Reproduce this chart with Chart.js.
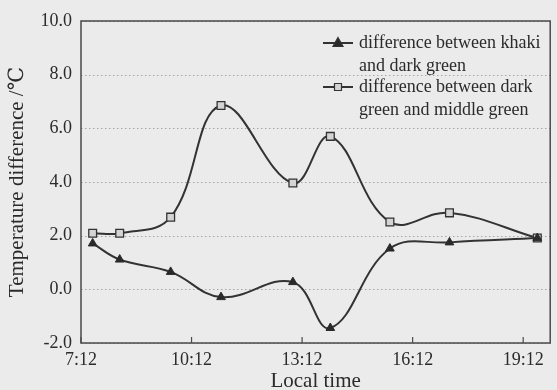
<!DOCTYPE html>
<html>
<head>
<meta charset="utf-8">
<script src="https://cdn.jsdelivr.net/npm/chart.js@4.4.1/dist/chart.umd.min.js"></script>
<style>
  html, body { margin: 0; padding: 0; background: #ebebeb; }
  #wrap { width: 557px; height: 390px; }
</style>
</head>
<body>
<div id="wrap"><canvas id="chart"></canvas></div>
<script>
// measured local times of the two series
const times = ['7:31', '8:15', '9:38', '11:00', '12:57', '13:58', '15:35', '17:12', '19:35'];
const khakiVsDark = [1.71, 1.11, 0.65, -0.29, 0.27, -1.44, 1.52, 1.75, 1.91];
const darkVsMiddle = [2.09, 2.09, 2.69, 6.85, 3.96, 5.70, 2.51, 2.85, 1.91];
const seriesNames = [
  ['difference between khaki', 'and dark green'],
  ['difference between dark', 'green and middle green']
];
const xTickLabels = ['7:12', '10:12', '13:12', '16:12', '19:12'];
const xEnd = '19:56';
const yTicks = [-2, 0, 2, 4, 6, 8, 10];

const INK = '#2b2b2b';
const SERIF = '"Liberation Serif", "DejaVu Serif", serif';

const toMin = s => { const [h, m] = s.split(':').map(Number); return h * 60 + m; };
const fmtTime = v => Math.floor(v / 60) + ':' + String(Math.round(v % 60)).padStart(2, '0');
const pts = vals => vals.map((y, i) => ({ x: toMin(times[i]), y }));

// dotted horizontal grid, drawn by hand so the dash is certain
const gridPlugin = {
  id: 'dotGrid',
  beforeDatasetsDraw(chart) {
    const { ctx, chartArea: a, scales: { y } } = chart;
    ctx.save();
    ctx.strokeStyle = '#a5a5a5';
    ctx.lineWidth = 1;
    ctx.setLineDash([1.5, 2.5]);
    y.ticks.forEach(t => {
      const py = Math.round(y.getPixelForValue(t.value)) + 0.5;
      ctx.beginPath();
      ctx.moveTo(a.left, py);
      ctx.lineTo(a.right, py);
      ctx.stroke();
    });
    ctx.restore();
  }
};

// box, inward x ticks and the two-line legend
const framePlugin = {
  id: 'frame',
  afterDraw(chart) {
    const { ctx, chartArea: a, scales: { x } } = chart;
    ctx.save();
    ctx.strokeStyle = '#4a4a4a';
    ctx.lineWidth = 1.5;
    ctx.strokeRect(a.left, a.top, a.right - a.left, a.bottom - a.top);
    ctx.lineWidth = 1.2;
    x.ticks.forEach(t => {
      const px = x.getPixelForValue(t.value);
      ctx.beginPath();
      ctx.moveTo(px, a.bottom);
      ctx.lineTo(px, a.bottom - 6);
      ctx.stroke();
    });

    ctx.font = '18px ' + SERIF;
    ctx.fillStyle = INK;
    ctx.textBaseline = 'middle';
    ctx.textAlign = 'left';
    chart.data.datasets.forEach((ds, i) => {
      const y = 43 + i * 44;
      ctx.strokeStyle = ds.borderColor;
      ctx.lineWidth = 2;
      ctx.beginPath();
      ctx.moveTo(323, y);
      ctx.lineTo(353, y);
      ctx.stroke();
      ctx.lineWidth = 1.2;
      ctx.fillStyle = ds.pointBackgroundColor;
      ctx.beginPath();
      if (ds.pointStyle === 'triangle') {
        ctx.moveTo(338, y - 5.5);
        ctx.lineTo(343, y + 3.5);
        ctx.lineTo(333, y + 3.5);
        ctx.closePath();
      } else {
        ctx.rect(334.5, y - 3.5, 7, 7);
      }
      ctx.fill();
      ctx.stroke();
      ctx.fillStyle = INK;
      seriesNames[i].forEach((line, j) => ctx.fillText(line, 359, y + j * 23));
    });
    ctx.restore();
  }
};

new Chart(document.getElementById('chart'), {
  type: 'line',
  data: {
    datasets: [
      {
        label: seriesNames[0].join(' '),
        data: pts(khakiVsDark),
        borderColor: '#333333', borderWidth: 2,
        pointStyle: 'triangle', pointRadius: 5,
        pointBackgroundColor: '#2a2a2a', pointBorderColor: '#2a2a2a', pointBorderWidth: 1,
        tension: 0.4, fill: false
      },
      {
        label: seriesNames[1].join(' '),
        data: pts(darkVsMiddle),
        borderColor: '#333333', borderWidth: 2,
        pointStyle: 'rect', pointRadius: 5.5,
        pointBackgroundColor: '#d4d4d4', pointBorderColor: '#333333', pointBorderWidth: 1.3,
        tension: 0.4, fill: false
      }
    ]
  },
  options: {
    responsive: true, maintainAspectRatio: false,
    animation: false,
    layout: { padding: { top: 21, right: 2, left: 0, bottom: 0 } },
    plugins: { legend: { display: false }, tooltip: { enabled: false } },
    scales: {
      x: {
        type: 'linear',
        min: toMin(xTickLabels[0]), max: toMin(xEnd),
        afterBuildTicks: axis => { axis.ticks = xTickLabels.map(s => ({ value: toMin(s) })); },
        afterFit: axis => { axis.height = 47; },
        grid: { display: false, drawTicks: false },
        border: { display: false },
        ticks: {
          autoSkip: false, maxRotation: 0, padding: 6,
          color: INK, font: { family: SERIF, size: 18 },
          callback: v => fmtTime(v)
        },
        title: {
          display: true, text: 'Local time', color: INK,
          font: { family: SERIF, size: 21, lineHeight: 1 },
          padding: { top: 0, bottom: -2 }
        }
      },
      y: {
        min: -2, max: 10,
        afterBuildTicks: axis => { axis.ticks = yTicks.map(v => ({ value: v })); },
        afterFit: axis => { axis.width = 81; },
        grid: { display: false, drawTicks: false },
        border: { display: false },
        ticks: {
          padding: 9, color: INK, font: { family: SERIF, size: 18 },
          callback: v => v.toFixed(1)
        },
        title: {
          display: true, text: 'Temperature difference /\u2103', color: INK,
          font: { family: SERIF, size: 21, lineHeight: 1 },
          padding: { top: 7, bottom: 0 }
        }
      }
    }
  },
  plugins: [gridPlugin, framePlugin]
});
</script>
</body>
</html>
